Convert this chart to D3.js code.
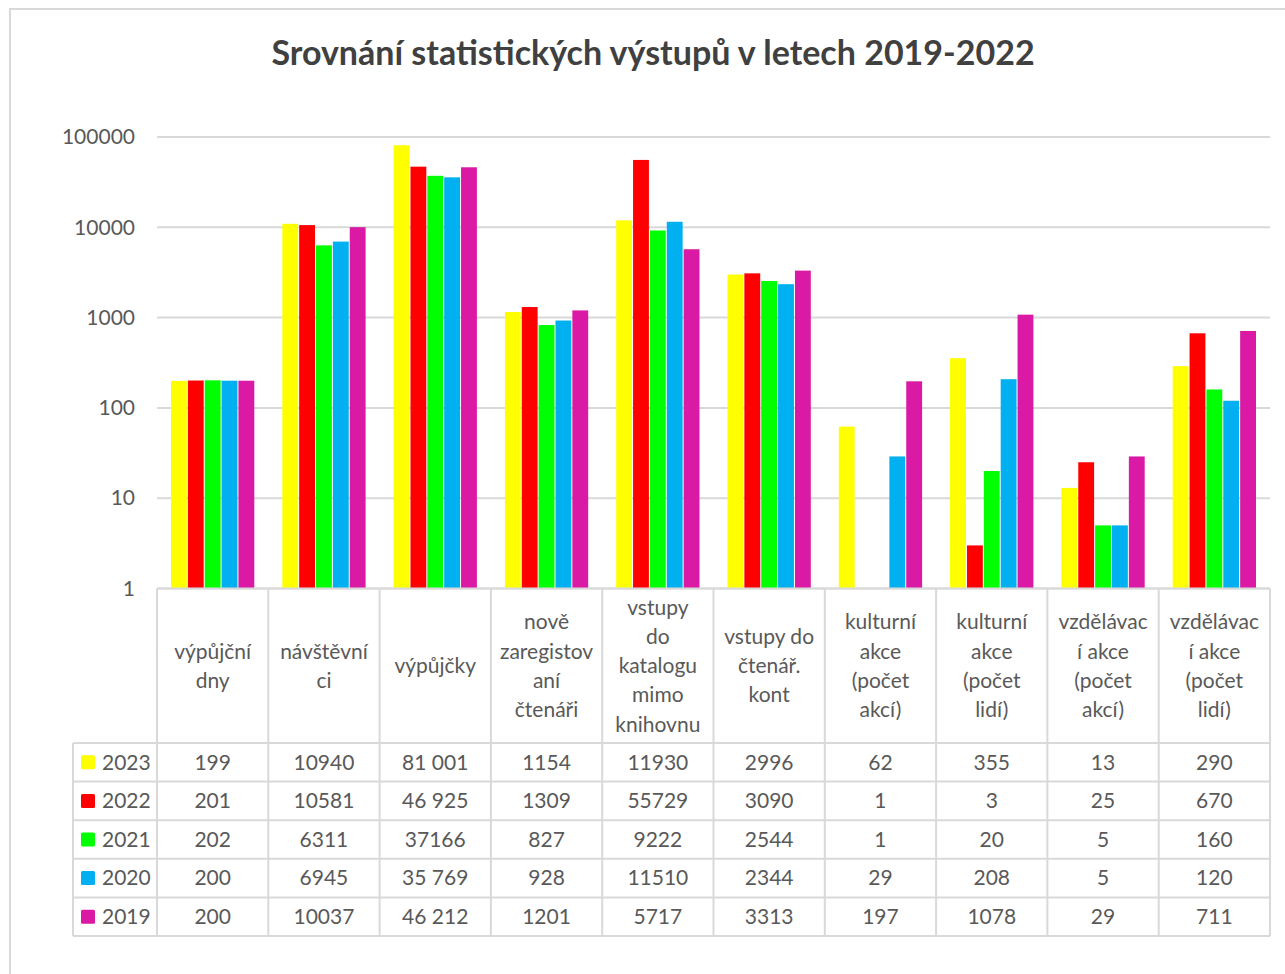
<!DOCTYPE html>
<html lang="cs">
<head>
<meta charset="utf-8">
<title>Srovnání statistických výstupů</title>
<script src="https://d3js.org/d3.v7.min.js"></script>
<style>
  body { margin: 0; background: #fff; }
  text { font-family: Lato, "Open Sans", sans-serif; fill: #595959; }
</style>
</head>
<body>
<div id="chart"></div>
<script>
// categories (header text of the table, line breaks as in the chart)
var categories = [
  "výpůjční\ndny",
  "návštěvní\nci",
  "výpůjčky",
  "nově\nzaregistov\naní\nčtenáři",
  "vstupy\ndo\nkatalogu\nmimo\nknihovnu",
  "vstupy do\nčtenář.\nkont",
  "kulturní\nakce\n(počet\nakcí)",
  "kulturní\nakce\n(počet\nlidí)",
  "vzdělávac\ní akce\n(počet\nakcí)",
  "vzdělávac\ní akce\n(počet\nlidí)"
];

var years = ["2023", "2022", "2021", "2020", "2019"];
var colors = ["#FFFF00", "#FF0000", "#00FF00", "#00B0F0", "#DA1AA5"];

// series values
var v2023 = [199, 10940, 81001, 1154, 11930, 2996, 62, 355, 13, 290];
var v2022 = [201, 10581, 46925, 1309, 55729, 3090, 1, 3, 25, 670];
var v2021 = [202, 6311, 37166, 827, 9222, 2544, 1, 20, 5, 160];
var v2020 = [200, 6945, 35769, 928, 11510, 2344, 29, 208, 5, 120];
var v2019 = [200, 10037, 46212, 1201, 5717, 3313, 197, 1078, 29, 711];
var series = [v2023, v2022, v2021, v2020, v2019];

// the third column is printed with digit grouping in the table
var vypujckyLabels = ["81 001", "46 925", "37166", "35 769", "46 212"];

var yTicks = [1, 10, 100, 1000, 10000, 100000];

var W = 1285, H = 974;
var plotLeft = 157, plotRight = 1270, plotTop = 137, base = 588.5;
var legendLeft = 73, headBottom = 743, rowH = 38.6;

var svg = d3.select("#chart").append("svg")
  .attr("width", W).attr("height", H);

// chart frame
svg.append("rect")
  .attr("x", 10).attr("y", 9).attr("width", W).attr("height", H)
  .attr("fill", "none").attr("stroke", "#d9d9d9").attr("stroke-width", 2);

// title
svg.append("text")
  .attr("x", 653).attr("y", 65)
  .attr("text-anchor", "middle")
  .style("font-size", "34px").style("font-weight", "bold")
  .style("fill", "#404040")
  .text("Srovnání statistických výstupů v letech 2019-2022");

var y = d3.scaleLog().domain([1, 100000]).range([base, plotTop]);

var x0 = d3.scaleBand().domain(d3.range(categories.length)).range([plotLeft, plotRight]);
var x1 = d3.scaleBand().domain(d3.range(years.length))
  .range([14, x0.bandwidth() - 14]).paddingInner(0.06);

// gridlines
svg.append("g").selectAll("line")
  .data(yTicks)
  .enter().append("line")
    .attr("x1", plotLeft).attr("x2", plotRight)
    .attr("y1", function(d) { return y(d); })
    .attr("y2", function(d) { return y(d); })
    .attr("stroke", "#d9d9d9").attr("stroke-width", 2);

// y axis labels
var yAxis = svg.append("g")
  .attr("transform", "translate(137,0)")
  .call(d3.axisLeft(y).tickValues(yTicks).tickFormat(d3.format("d")).tickSize(0).tickPadding(2));
yAxis.select(".domain").remove();
yAxis.selectAll("text")
  .style("font-size", "21px").style("font-family", "Lato, sans-serif").attr("fill", "#595959");

// bars
var groups = svg.append("g").selectAll("g")
  .data(categories)
  .enter().append("g")
    .attr("transform", function(d, i) { return "translate(" + x0(i) + ",0)"; });

groups.selectAll("rect")
  .data(function(d, i) { return series.map(function(s, k) { return {k: k, v: s[i]}; }); })
  .enter().append("rect")
    .attr("x", function(d) { return x1(d.k); })
    .attr("width", x1.bandwidth())
    .attr("y", function(d) { return y(d.v); })
    .attr("height", function(d) { return base - y(d.v); })
    .attr("fill", function(d) { return colors[d.k]; });

// data table
var table = svg.append("g");
var lineCol = "#d9d9d9";

// horizontal lines
table.append("line")
  .attr("x1", plotLeft).attr("x2", plotRight).attr("y1", base).attr("y2", base)
  .attr("stroke", lineCol).attr("stroke-width", 2);
d3.range(years.length + 1).forEach(function(r) {
  var yy = headBottom + r * rowH;
  table.append("line")
    .attr("x1", legendLeft).attr("x2", plotRight).attr("y1", yy).attr("y2", yy)
    .attr("stroke", lineCol).attr("stroke-width", 2);
});
var tableBottom = headBottom + years.length * rowH;

// vertical lines
d3.range(categories.length + 1).forEach(function(c) {
  var xx = c < categories.length ? x0(c) : plotRight;
  table.append("line")
    .attr("x1", xx).attr("x2", xx).attr("y1", base).attr("y2", tableBottom)
    .attr("stroke", lineCol).attr("stroke-width", 2);
});
table.append("line")
  .attr("x1", legendLeft).attr("x2", legendLeft).attr("y1", headBottom).attr("y2", tableBottom)
  .attr("stroke", lineCol).attr("stroke-width", 2);

// header text
categories.forEach(function(c, i) {
  var lines = c.split("\n");
  var cx = x0(i) + x0.bandwidth() / 2;
  var cy = (base + headBottom) / 2;
  var lh = 29.2;
  var t = table.append("text")
    .attr("text-anchor", "middle")
    .style("font-size", "21px");
  lines.forEach(function(l, j) {
    t.append("tspan")
      .attr("x", cx)
      .attr("y", cy + (j - (lines.length - 1) / 2) * lh)
      .attr("dy", "0.35em")
      .text(l);
  });
});

// rows
years.forEach(function(yr, r) {
  var cy = headBottom + r * rowH + rowH / 2;
  table.append("rect")
    .attr("x", 81).attr("y", cy - 7).attr("width", 14).attr("height", 14)
    .attr("rx", 1.5)
    .attr("fill", colors[r]);
  table.append("text")
    .attr("x", 102).attr("y", cy).attr("dy", "0.35em")
    .style("font-size", "21px")
    .text(yr);
  series[r].forEach(function(v, i) {
    table.append("text")
      .attr("x", x0(i) + x0.bandwidth() / 2).attr("y", cy).attr("dy", "0.35em")
      .attr("text-anchor", "middle")
      .style("font-size", "21px")
      .text(i === 2 ? vypujckyLabels[r] : v);
  });
});
</script>
</body>
</html>
